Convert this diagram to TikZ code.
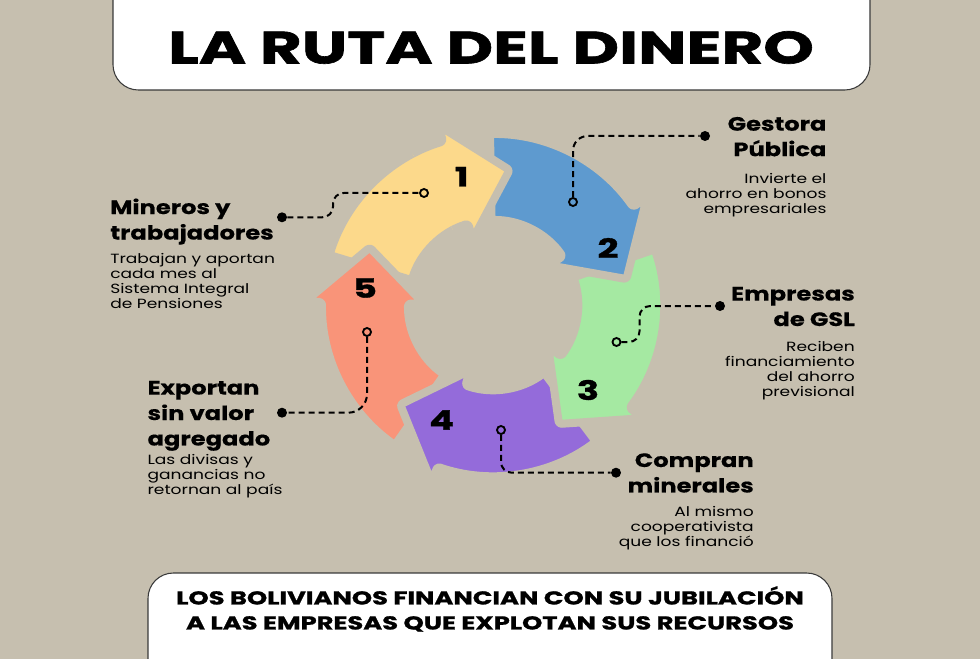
\documentclass[tikz,border=0pt]{standalone}
\usepackage{fontspec}
\setmainfont{Poppins}
\newfontfamily\headfont{Poppins}[FakeStretch=1.25, FakeBold=0.4]
\newfontfamily\titlefont{Poppins}[FakeStretch=1.38, FakeBold=1.2]
\newfontfamily\bigfont{Poppins}[FakeStretch=1.42, FakeBold=1.4]
\newfontfamily\bodyfont{Poppins}[FakeStretch=1.28]
\usetikzlibrary{calc}
\definecolor{bgTan}{HTML}{C6BFAF}
\definecolor{ringYellow}{HTML}{FCD98B}
\definecolor{ringBlue}{HTML}{5E9ACF}
\definecolor{ringGreen}{HTML}{A5E9A2}
\definecolor{ringPurple}{HTML}{946BDA}
\definecolor{ringSalmon}{HTML}{F99479}
\definecolor{boxEdge}{HTML}{3A3A3A}
\tikzset{
  banner/.style    = {fill=white, draw=boxEdge, line width=0.8pt, rounded corners=19pt},
  ringarrow/.style = {draw=bgTan, line width=6pt, line join=round, rounded corners=2pt},
  stepnum/.style   = {font=\titlefont\bfseries\fontsize{20}{20}\selectfont},
  link/.style      = {black, line width=1.5pt, dash pattern=on 4.5pt off 3pt, rounded corners=8pt},
  holedot/.style   = {circle, draw=black, line width=1.4pt, minimum size=6pt, inner sep=0pt},
  enddot/.style    = {circle, fill=black, minimum size=7.5pt, inner sep=0pt},
  headtxt/.style   = {font=\headfont\bfseries\fontsize{14.5}{19.1}\selectfont, inner sep=0pt},
  bodytxt/.style   = {font=\bodyfont\fontsize{10}{11.25}\selectfont, inner sep=0pt},
}
% one arrow of the ring: colour, tail angle
\newcommand{\ringArrow}[2]{%
  \filldraw[ringarrow, fill=#1]
    (#2:85) arc[start angle=#2, end angle=#2-56, radius=85]
    -- ({#2-56}:69) -- ({#2-80}:136) -- ({#2-56}:188) -- ({#2-56}:171)
    arc[start angle=#2-56, end angle=#2, radius=171] -- cycle;}

\begin{document}
\begin{tikzpicture}[x=0.75pt, y=-0.75pt]
  \useasboundingbox (0,0) rectangle (980,659);
  \clip (0,0) rectangle (980,659);
  \fill[bgTan] (0,0) rectangle (980,659);

  % banners
  \draw[banner] (113,-40) rectangle (870,90);
  \draw[banner] (148,573) rectangle (832,720);
  \node[font=\bigfont\bfseries\fontsize{34}{34}\selectfont] (title) at (491,47.5) {LA RUTA DEL DINERO};
  \node[font=\titlefont\bfseries\fontsize{14}{18.75}\selectfont, align=center, anchor=north, inner sep=0pt]
    (moral) at (490,586) {LOS BOLIVIANOS FINANCIAN CON SU JUBILACIÓN\\A LAS EMPRESAS QUE EXPLOTAN SUS RECURSOS};

  % ring
  \begin{scope}[shift={(493,305)}, yscale=-1]
    \ringArrow{ringYellow}{163}
    \ringArrow{ringSalmon}{235}
    \ringArrow{ringPurple}{307}
    \ringArrow{ringGreen}{19}
    \ringArrow{ringBlue}{91}
    \begin{scope}
      \clip (0,0) -- (66:220) arc[start angle=66, end angle=118, radius=220] -- cycle;
      \ringArrow{ringYellow}{163}
    \end{scope}
  \end{scope}

  \node[stepnum] (n1) at (461.7,176.7) {1};
  \node[stepnum] (n2) at (608,248) {2};
  \node[stepnum] (n3) at (588,390) {3};
  \node[stepnum] (n4) at (441.7,420) {4};
  \node[stepnum] (n5) at (365,288) {5};

  % connectors
  \node[holedot] (c1) at (424,193) {};
  \node[holedot] (c2) at (573,202) {};
  \node[holedot] (c3) at (616.5,342) {};
  \node[holedot] (c4) at (501,430) {};
  \node[holedot] (c5) at (367,332) {};
  \node[enddot] (d1) at (282,217.3) {};
  \node[enddot] (d2) at (705,136) {};
  \node[enddot] (d3) at (720,306) {};
  \node[enddot] (d4) at (616,472.7) {};
  \node[enddot] (d5) at (282,412.7) {};

  \draw[link] (d1) -- ++(51,0) |- (c1);
  \draw[link, rounded corners=11pt] (c2) |- (d2);
  \draw[link] (c3) -- ++(23,0) |- (d3);
  \draw[link] (c4) |- (d4);
  \draw[link, rounded corners=14pt] (c5) |- (d5);

  % labels
  \node[headtxt, anchor=north west, align=left] (h1) at (110,198.3) {Mineros y\\trabajadores};
  \node[bodytxt, anchor=north west, align=left] (b1) at (110,253) {Trabajan y aportan\\cada mes al\\Sistema Integral\\de Pensiones};
  \node[headtxt, anchor=north east, align=right] (h2) at (826.7,116.7) {Gestora\\Pública};
  \node[bodytxt, anchor=north east, align=right] (b2) at (826.7,173) {Invierte el\\ahorro en bonos\\empresariales};
  \node[headtxt, anchor=north east, align=right] (h3) at (855,286.7) {Empresas\\de GSL};
  \node[bodytxt, anchor=north east, align=right] (b3) at (855,340.7) {Reciben\\financiamiento\\del ahorro\\previsional};
  \node[headtxt, anchor=north east, align=right] (h4) at (754,453) {Compran\\minerales};
  \node[bodytxt, anchor=north east, align=right] (b4) at (754,506) {Al mismo\\cooperativista\\que los financió};
  \node[headtxt, anchor=north west, align=left] (h5) at (147.3,380.7) {Exportan\\sin valor\\agregado};
  \node[bodytxt, anchor=north west, align=left] (b5) at (147.3,454) {Las divisas y\\ganancias no\\retornan al país};
\end{tikzpicture}
\end{document}
